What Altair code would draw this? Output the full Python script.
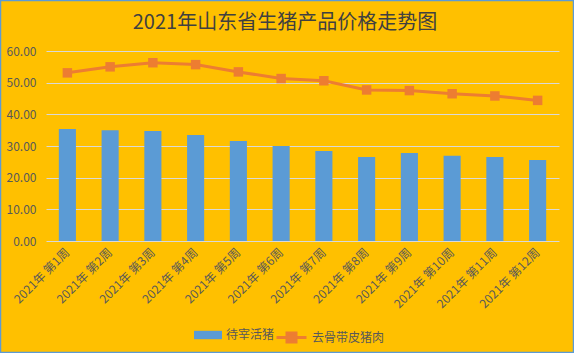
import altair as alt
import pandas as pd

weeks = [f"2021年 第{i}周" for i in range(1, 13)]
live_pig = [35.4, 35.0, 34.7, 33.5, 31.6, 30.0, 28.4, 26.5, 27.8, 26.9, 26.5, 25.6]
pork = [53.1, 55.0, 56.3, 55.7, 53.4, 51.3, 50.6, 47.7, 47.5, 46.5, 45.8, 44.4]
series_names = ["待宰活猪", "去骨带皮猪肉"]
title_text = "2021年山东省生猪产品价格走势图"

BG = "#FFC000"
BLUE = "#5B9BD5"
ORANGE = "#ED7D31"
GRID = "#D9D9D9"
LABEL = "#595959"
FONT = "Noto Sans CJK SC"

bars_df = pd.DataFrame({"week": weeks, "value": live_pig, "series": series_names[0]})
line_df = pd.DataFrame({"week": weeks, "value": pork, "series": series_names[1]})

x_enc = alt.X(
    "week:N",
    sort=weeks,
    scale=alt.Scale(paddingInner=0.6, paddingOuter=0.3),
    axis=alt.Axis(
        title=None, labelAngle=-45, labelAlign="right", labelBaseline="middle",
        ticks=False, domain=False, labelPadding=9, labelColor=LABEL,
        labelFont=FONT, labelFontSize=12, labelOverlap=False,
    ),
)
y_enc = alt.Y(
    "value:Q",
    scale=alt.Scale(domain=[0, 60], nice=False),
    axis=alt.Axis(
        title=None, values=[0, 10, 20, 30, 40, 50, 60], format=".2f",
        grid=True, gridColor=GRID, gridWidth=1, domain=False, ticks=False,
        labelPadding=10, labelColor=LABEL, labelFont=FONT, labelFontSize=12,
        labelOverlap=False,
    ),
)

bars = alt.Chart(bars_df).mark_bar(color=BLUE).encode(
    x=x_enc,
    y=y_enc,
    color=alt.Color(
        "series:N",
        scale=alt.Scale(domain=[series_names[0]], range=[BLUE]),
        legend=alt.Legend(
            title=None, orient="none", legendX=148, legendY=270,
            symbolType="M-1,-0.3H1V0.3H-1Z", symbolSize=784,
            labelFont=FONT, labelFontSize=12, labelColor=LABEL,
            symbolStrokeWidth=0,
        ),
    ),
)

line = alt.Chart(line_df).mark_line(strokeWidth=3).encode(
    x=x_enc,
    y=y_enc,
    stroke=alt.Stroke(
        "series:N",
        scale=alt.Scale(domain=[series_names[1]], range=[ORANGE]),
        legend=alt.Legend(
            title=None, orient="none", legendX=229, legendY=270,
            symbolType="M-1,0H1M-0.3,-0.3H0.3V0.3H-0.3Z", symbolSize=900,
            symbolStrokeWidth=3, symbolFillColor=ORANGE,
            labelFont=FONT, labelFontSize=12, labelColor=LABEL,
        ),
    ),
)

points = alt.Chart(line_df).mark_square(size=90, color=ORANGE, opacity=1).encode(
    x=x_enc,
    y=y_enc,
)

border = alt.Chart(alt.Data(values=[{}])).mark_rect(
    fill=None, stroke=BLUE, strokeWidth=1.5
).encode(
    x=alt.value(-45.5), x2=alt.value(527.5), y=alt.value(-50.5), y2=alt.value(301.5)
)

chart = alt.layer(bars, line, points, border).resolve_scale(
    color="independent", stroke="independent"
).properties(
    width=513,
    height=190,
    padding={"left": 46, "top": 51, "right": 15, "bottom": 112},
    autosize=alt.AutoSizeParams(type="none"),
    background=BG,
    title=alt.TitleParams(
        title_text, anchor="start", dx=133, offset=-33, font=FONT,
        fontSize=20, fontWeight="normal", color="#404040",
    ),
).configure_view(stroke=None)

chart.save("out.html", embed_options={"renderer": "svg", "actions": False})
